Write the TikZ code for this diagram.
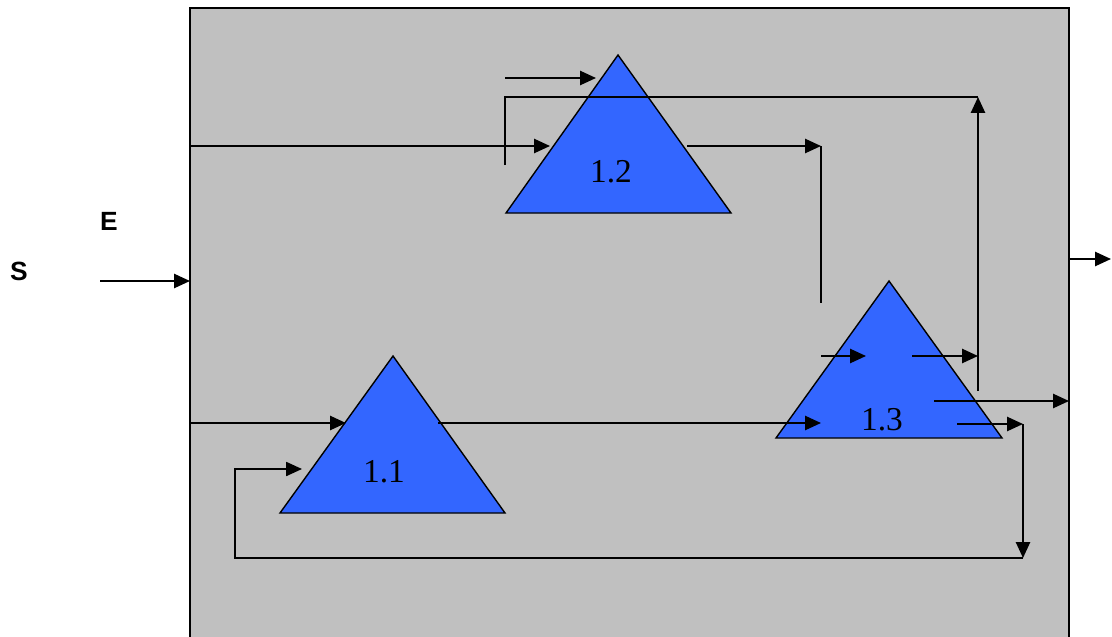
\documentclass[tikz,border=0pt]{standalone}
\usepackage{fontspec}
\setmainfont{Liberation Serif}
\setsansfont{Liberation Sans}
\usetikzlibrary{arrows.meta}
\definecolor{boxgray}{RGB}{192,192,192}
\definecolor{procblue}{RGB}{51,102,255}

\begin{document}
\begin{tikzpicture}[
    x=0.02cm, y=-0.02cm,
    frame/.style={draw, line width=1.3pt, fill=boxgray},
    proc/.style={draw, line width=0.8pt, fill=procblue, line join=miter},
    tag/.style={font=\fontsize{19}{19}\selectfont, inner sep=0pt},
    io/.style={font=\sffamily\bfseries\fontsize{15}{15}\selectfont, inner sep=0pt},
    arrow/.style={-{Triangle[length=9pt, width=8pt]}, line width=1.1pt},
    wire/.style={line width=0.8pt}
]
\useasboundingbox (0,0) rectangle (1112,636);
\clip (0,0) rectangle (1112,636);

\draw[frame] (190,8) rectangle (1069,680);

% processes
\draw[proc] (618,55) -- (731,213) -- (506,213) -- cycle;
\draw[proc] (889,281) -- (1002,438) -- (776,438) -- cycle;
\draw[proc] (393,356) -- (505,513) -- (280,513) -- cycle;
\node[tag] (p12) at (611,172) {1.2};
\node[tag] (p13) at (882,420) {1.3};
\node[tag] (p11) at (384,472) {1.1};

\node[io] (lblS) at (19,271) {S};
\node[io] (lblE) at (109,221) {E};

\coordinate (sA) at (100,281);   \coordinate (sB) at (190,281);
\coordinate (oA) at (1069,259);  \coordinate (oB) at (1111,259);
\coordinate (eA) at (190,146);   \coordinate (eB) at (550,146);
\coordinate (tA) at (505,78);    \coordinate (tB) at (596,78);
\coordinate (rA) at (505,165);   \coordinate (rB) at (505,97);
\coordinate (rC) at (978,97);    \coordinate (rD) at (978,391);
\coordinate (qA) at (687,146);   \coordinate (qB) at (821,146);
\coordinate (qC) at (821,303);
\coordinate (uA) at (821,356);   \coordinate (uB) at (866,356);
\coordinate (vA) at (912,356);   \coordinate (vB) at (978,356);
\coordinate (wA) at (934,401);   \coordinate (wB) at (1069,401);
\coordinate (fA) at (957,424);   \coordinate (fB) at (1023,424);
\coordinate (fC) at (1023,558);  \coordinate (fD) at (235,558);
\coordinate (fE) at (235,469);   \coordinate (fF) at (302,469);
\coordinate (gA) at (190,423);   \coordinate (gB) at (346,423);
\coordinate (hA) at (438,423);   \coordinate (hB) at (821,423);

\foreach \a/\b in {sA/sB, oA/oB, eA/eB, tA/tB, rD/rC, qA/qB,
    uA/uB, vA/vB, wA/wB, fA/fB, fB/fC, gA/gB, hA/hB}
    \draw[arrow] (\a) -- (\b);

\draw[wire] (rA) -- (rB) -- (rC);
\draw[wire] (qB) -- (qC);
\draw[arrow, line width=0.9pt] (fC) -- (fD) -- (fE) -- (fF);
\end{tikzpicture}
\end{document}
